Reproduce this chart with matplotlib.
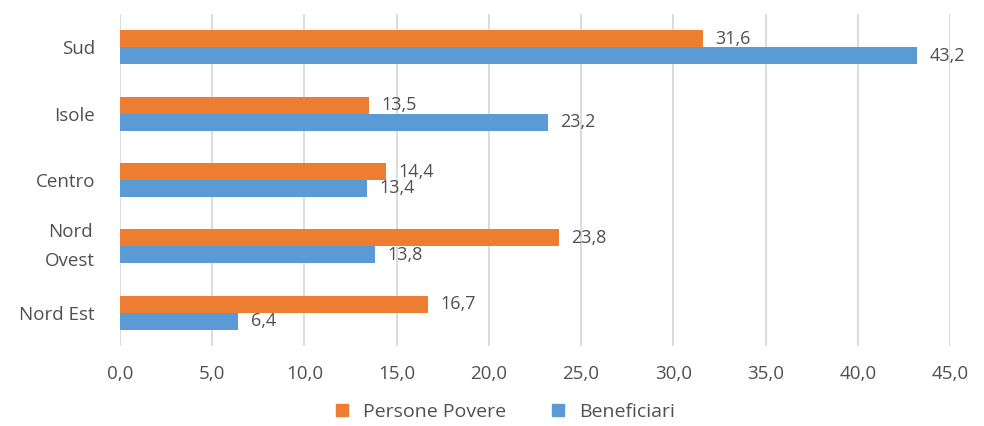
import numpy as np
import matplotlib.pyplot as plt
from matplotlib.lines import Line2D

# data (bottom to top)
regioni = ["Nord Est", "Nord\nOvest", "Centro", "Isole", "Sud"]
persone_povere = [16.7, 23.8, 14.4, 13.5, 31.6]
beneficiari = [6.4, 13.8, 13.4, 23.2, 43.2]
xticks = [0, 5, 10, 15, 20, 25, 30, 35, 40, 45]

ORANGE = "#ED7D31"
BLUE = "#5B9BD5"
TEXT = "#505050"

plt.rcParams["font.family"] = ["Open Sans", "DejaVu Sans"]

fig = plt.figure(figsize=(9.84, 4.26), dpi=100)
ax = fig.add_axes([120/984, 1 - 346/426, 830/984, 332/426])

y = np.arange(len(regioni))
h = 0.255

b1 = ax.barh(y + h/2, persone_povere, height=h, color=ORANGE, zorder=3)
b2 = ax.barh(y - h/2, beneficiari, height=h, color=BLUE, zorder=3)

for bars, vals in ((b1, persone_povere), (b2, beneficiari)):
    for bar, v in zip(bars, vals):
        ax.annotate(f"{v:.1f}".replace(".", ","),
                    (bar.get_width(), bar.get_y() + bar.get_height()/2),
                    xytext=(9, 0), textcoords="offset points",
                    va="center", ha="left", fontsize=13, color=TEXT)

ax.set_xlim(0, 45)
ax.set_ylim(-0.5, 4.5)
ax.set_xticks(xticks)
ax.set_xticklabels([f"{t:.1f}".replace(".", ",") for t in xticks])
ax.set_yticks(y)
ax.set_yticklabels(regioni, ha="right", multialignment="center")
for lab in ax.get_yticklabels():
    if "\n" in lab.get_text():
        lab.set_linespacing(1.75)
        lab.set_verticalalignment("center")
ax.tick_params(axis="y", length=0, pad=18, labelsize=13.5, labelcolor=TEXT)
ax.tick_params(axis="x", length=0, pad=14, labelsize=13.5, labelcolor=TEXT)

ax.grid(axis="x", color="#D9D9D9", linewidth=1.3, zorder=0)
for s in ax.spines.values():
    s.set_visible(False)

handles = [Line2D([], [], marker="s", linestyle="", markersize=9, color=ORANGE),
           Line2D([], [], marker="s", linestyle="", markersize=9, color=BLUE)]
fig.legend(handles, ["Persone Povere", "Beneficiari"], loc="center",
           bbox_to_anchor=(0.507, 1 - 412/426), ncol=2, frameon=False,
           fontsize=14, labelcolor=TEXT, handletextpad=0.05, columnspacing=1.7)

fig.savefig("out.png", dpi=100)
